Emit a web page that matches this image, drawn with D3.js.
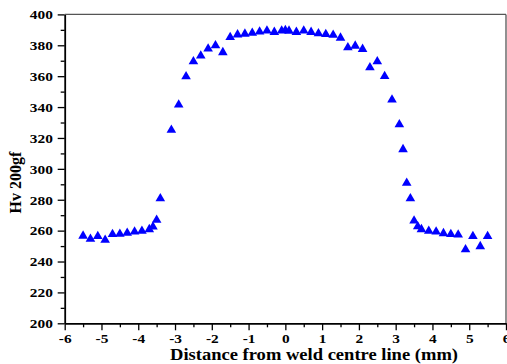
<!DOCTYPE html>
<html>
<head>
<meta charset="utf-8">
<script src="https://cdn.jsdelivr.net/npm/d3@7"></script>
<style>
html,body{margin:0;padding:0;background:#fff;}
svg{display:block;}
text{font-family:"Liberation Serif","Times New Roman",serif;font-weight:bold;fill:#000;}
</style>
</head>
<body>
<svg id="chart" width="507" height="364"></svg>
<script>
const distance = [-5.5,-5.3,-5.1,-4.9,-4.7,-4.5,-4.3,-4.1,-3.9,-3.7,-3.6,-3.5,-3.4,-3.1,-2.9,-2.7,-2.5,-2.3,-2.1,-1.9,-1.7,-1.5,-1.3,-1.1,-0.9,-0.7,-0.5,-0.3,-0.1,0,0.1,0.3,0.5,0.7,0.9,1.1,1.3,1.5,1.7,1.9,2.1,2.3,2.5,2.7,2.9,3.1,3.2,3.3,3.4,3.5,3.6,3.7,3.9,4.1,4.3,4.5,4.7,4.9,5.1,5.3,5.5];
const hardness = [257.5,255.5,257.3,254.8,258.5,258.7,259.3,260.2,260.6,261.7,263.4,267.8,281.7,326.1,342.4,360.7,370.4,374.1,378.7,380.7,376.3,386.1,387.8,388.3,388.8,389.7,390.3,389.4,390.3,390.6,390.2,389.4,390.3,389.4,388.5,388.0,387.5,385.7,379.5,380.5,378.4,366.5,370.4,360.9,345.6,329.6,313.5,291.7,281.7,267.3,263.6,261.7,260.6,260.2,259.1,258.6,258.2,248.7,257.3,250.7,257.3];
const xTicks = [-6,-5,-4,-3,-2,-1,0,1,2,3,4,5,6];
const xMinorTicks = [-5.5,-4.5,-3.5,-2.5,-1.5,-0.5,0.5,1.5,2.5,3.5,4.5,5.5];
const yTicks = [200,220,240,260,280,300,320,340,360,380,400];
const yMinorTicks = [210,230,250,270,290,310,330,350,370,390];
const xTitle = "Distance from weld centre line (mm)";
const yTitle = "Hv 200gf";

const svg = d3.select("#chart");
const L = 64.7, R = 506, T = 14.4, B = 323.3;
const x = d3.scaleLinear().domain([-6,6]).range([L,R]);
const y = d3.scaleLinear().domain([200,400]).range([B,T]);

// frame top/right
svg.append("line").attr("x1",L).attr("x2",R).attr("y1",T).attr("y2",T)
  .attr("stroke","#555").attr("stroke-width",1.3);
svg.append("line").attr("x1",R).attr("x2",R).attr("y1",T).attr("y2",B)
  .attr("stroke","#555").attr("stroke-width",1.3);

// minor ticks
svg.append("g").attr("transform",`translate(0,${B})`)
  .call(d3.axisBottom(x).tickValues(xMinorTicks).tickSize(4).tickSizeOuter(0).tickFormat(""))
  .call(g=>g.select(".domain").remove())
  .call(g=>g.selectAll("line").attr("stroke","#000").attr("stroke-width",1.3));
svg.append("g").attr("transform",`translate(${L},0)`)
  .call(d3.axisLeft(y).tickValues(yMinorTicks).tickSize(4).tickSizeOuter(0).tickFormat(""))
  .call(g=>g.select(".domain").remove())
  .call(g=>g.selectAll("line").attr("stroke","#000").attr("stroke-width",1.3));

// major axes
const gx = svg.append("g").attr("transform",`translate(0,${B})`)
  .call(d3.axisBottom(x).tickValues(xTicks).tickSize(7).tickSizeOuter(0).tickFormat(d=>String(d)));
gx.select(".domain").attr("stroke","#000").attr("stroke-width",1.8);
gx.selectAll(".tick line").attr("stroke","#000").attr("stroke-width",1.3);
gx.selectAll(".tick text").attr("font-size",12).attr("dy",null).attr("y",20)
  .attr("transform","scale(1.28,1)").style("font-family","'Liberation Serif',serif").style("font-weight","bold");

const gy = svg.append("g").attr("transform",`translate(${L},0)`)
  .call(d3.axisLeft(y).tickValues(yTicks).tickSize(7).tickSizeOuter(0).tickFormat(d=>String(d)));
gy.select(".domain").attr("stroke","#000").attr("stroke-width",1.8);
gy.selectAll(".tick line").attr("stroke","#000").attr("stroke-width",1.3);
gy.selectAll(".tick text").attr("font-size",12).attr("x",-9.3).attr("dy","0.36em")
  .attr("transform","scale(1.28,1)").style("font-family","'Liberation Serif',serif").style("font-weight","bold");

// markers
const sym = d3.symbol().type(d3.symbolTriangle).size(40);
const half = Math.sqrt(40/(Math.sqrt(3)*3))/2;
svg.append("g").selectAll("path").data(distance).join("path")
  .attr("d",sym)
  .attr("transform",(d,i)=>`translate(${x(d)},${y(hardness[i])+half})`)
  .attr("fill","#0000ff");

// titles
svg.append("text").attr("x",314).attr("y",360).attr("text-anchor","middle")
  .attr("font-size",16.5).attr("textLength",288).attr("lengthAdjust","spacingAndGlyphs")
  .text(xTitle);
svg.append("text").attr("transform","translate(21,182.5) rotate(-90)").attr("text-anchor","middle")
  .attr("font-size",16).text(yTitle);
</script>
</body>
</html>
